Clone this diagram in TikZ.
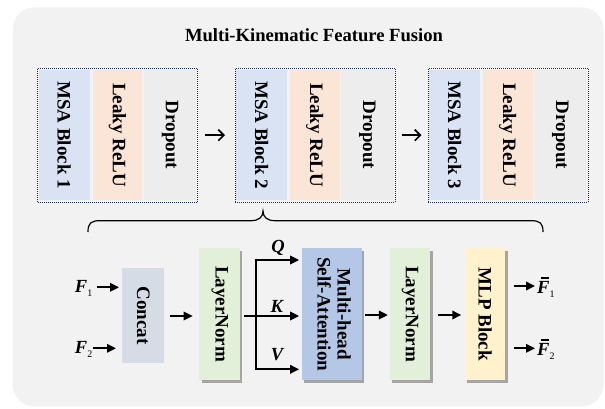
\documentclass[tikz,border=0pt]{standalone}
\usepackage{fontspec}
\setmainfont{Liberation Serif}
\usepackage{graphicx}
\usetikzlibrary{arrows.meta,shadows}
\definecolor{bgc}{HTML}{F2F2F2}
\definecolor{msac}{HTML}{DAE3F3}
\definecolor{reluc}{HTML}{FBE5D6}
\definecolor{dropc}{HTML}{EDEDED}
\definecolor{dotc}{HTML}{1F2F55}
\definecolor{concatc}{HTML}{D6DCE5}
\definecolor{lnc}{HTML}{E2F0D9}
\definecolor{attc}{HTML}{B4C7E7}
\definecolor{mlpc}{HTML}{FFF2CC}
\newcommand\rtext[1]{\rotatebox{-90}{#1}}
\newcommand\subone[1]{\raisebox{-4pt}{\normalfont\fontsize{10}{10}\selectfont #1}}
\newcommand\Fbar{\rlap{\hspace{4pt}\rule[14.5pt]{8pt}{1.1pt}}F}
\begin{document}
\begin{tikzpicture}[x=1pt,y=-1pt,
  strip/.style={inner sep=0pt, minimum height=130pt, font=\fontsize{19}{21}\selectfont\bfseries},
  grp/.style={draw=dotc, line width=1pt, dash pattern=on 1pt off 1pt, inner sep=0pt, minimum width=160pt, minimum height=133.7pt},
  blk/.style={inner sep=0pt, font=\fontsize{19}{20}\selectfont\bfseries, minimum height=131.7pt, minimum width=40.5pt},
  shad/.style={drop shadow={shadow xshift=2.5pt, shadow yshift=-2.5pt, fill=black!60, opacity=0.55}},
  arr/.style={line width=1.9pt, -{Triangle[length=9pt,width=8.5pt]}},
  barb/.style={line width=1.7pt, -{Straight Barb[length=5.5pt,width=11pt]}},
  lbl/.style={font=\fontsize{18.5}{18.5}\selectfont\bfseries\itshape, inner sep=0pt}]
\useasboundingbox (0,0) rectangle (605,408);
\fill[white] (0,0) rectangle (605,408);
\fill[bgc, rounded corners=22pt] (12.7,7.3) rectangle (603.5,406.5);

\node[font=\fontsize{18.6}{20}\selectfont\bfseries, anchor=base, inner sep=0pt] (title) at (314,41.7) {Multi-Kinematic Feature Fusion};

\foreach \i/\L in {1/37.7, 2/235, 3/428}{
  \node[strip, fill=msac, minimum width=51pt] (m\i) at (\L+26.5,135) {\rtext{MSA Block \i}};
  \node[strip, fill=reluc, minimum width=49.5pt] (r\i) at (\L+79.75,135) {\rtext{Leaky ReLU}};
  \node[strip, fill=dropc, minimum width=52.5pt] (d\i) at (\L+132.25,135) {\rtext{Dropout}};
  \node[grp] (g\i) at (\L+80,135.15) {};
}
\draw[barb, shorten <=6.3pt, shorten >=9.5pt] (g1.east) -- (g2.west);
\draw[barb, shorten <=6pt, shorten >=6pt] (g2.east) -- (g3.west);

% brace
\coordinate (bl) at (88,232);
\coordinate (bt) at (263,211);
\coordinate (br) at (543,232);
\draw[line width=1.2pt] (bl) .. controls (88,223) and (91,220.7) .. (100,220.7) -- (251,220.7)
  .. controls (259,220.7) and (263,217) .. (bt)
  .. controls (263,217) and (267,220.7) .. (275,220.7) -- (531,220.7)
  .. controls (540,220.7) and (543,223) .. (br);

% bottom row
\node[blk, fill=concatc, minimum height=94.4pt, minimum width=41.7pt] (concat) at (143.2,315.5) {\rtext{Concat}};
\node[blk, shad, fill=lnc] (ln1) at (219.7,314.2) {\rtext{LayerNorm}};
\node[blk, shad, fill=attc, minimum width=60pt] (att) at (331.7,314.2)
  {\rtext{\begin{tabular}{@{}c@{}}Multi-head\\Self-Attention\end{tabular}}};
\node[blk, shad, fill=lnc] (ln2) at (410,314.2) {\rtext{LayerNorm}};
\node[blk, shad, fill=mlpc] (mlp) at (485,314.2) {\rtext{MLP Block}};

% inputs
\node[lbl, anchor=base east] (f1) at (92.5,292.3) {F\subone{1}};
\node[lbl, anchor=base east] (f2) at (92.5,353.3) {F\subone{2}};
\coordinate (i1) at (119,287.3);
\coordinate (i2) at (116,348.3);
\draw[arr, shorten <=4.2pt] (f1.east |- i1) -- (i1);
\draw[arr, shorten <=0.5pt] (f2.east |- i2) -- (i2);

\draw[arr, shorten <=5.3pt, shorten >=6.6pt] (concat.east |- 0,316) -- (ln1.west |- 0,316);

% Q K V
\coordinate (sp) at (255.7,316);
\coordinate (qa) at (255.7,260);
\coordinate (va) at (255.7,369.3);
\draw[arr, shorten <=4.3pt, shorten >=2.4pt] (ln1.east |- sp) -- (att.west |- sp);
\draw[arr, shorten >=2.4pt] (va) -- (qa) -- (att.west |- qa);
\draw[arr, shorten >=2.4pt] (qa) -- (va) -- (att.west |- va);
\node[lbl] (q) at (278,248) {Q};
\node[lbl] (k) at (276.7,306) {K};
\node[lbl] (v) at (277,355) {V};

\draw[arr, shorten <=3.3pt, shorten >=1.7pt] (att.east |- 0,315) -- (ln2.west |- 0,315);
\draw[arr, shorten <=7.3pt, shorten >=3.3pt] (ln2.east |- 0,315) -- (mlp.west |- 0,315);

% outputs
\coordinate (o1) at (535,286);
\coordinate (o2) at (535,348.3);
\draw[arr, shorten <=8.3pt] (mlp.east |- o1) -- (o1);
\draw[arr, shorten <=8.3pt] (mlp.east |- o2) -- (o2);
\node[lbl, anchor=base west] (fo1) at (537,293) {\Fbar\subone{1}};
\node[lbl, anchor=base west] (fo2) at (537,355) {\Fbar\subone{2}};
\end{tikzpicture}
\end{document}
